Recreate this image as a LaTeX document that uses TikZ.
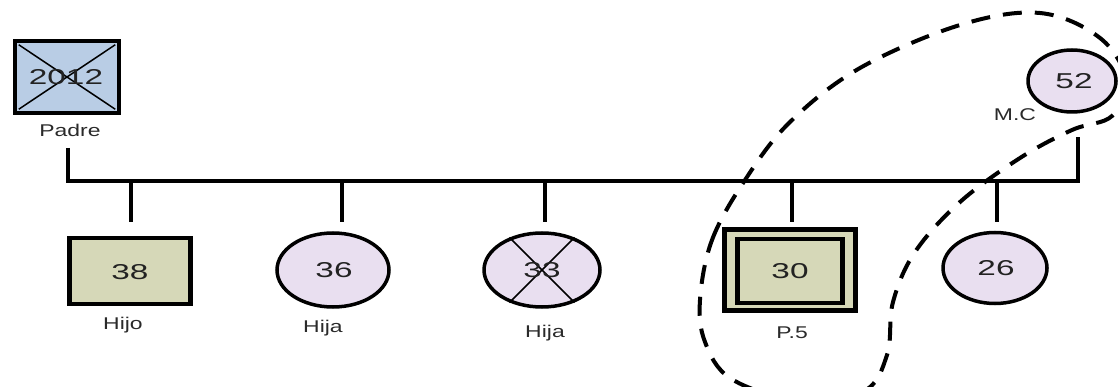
\documentclass[tikz,border=0pt]{standalone}
\usepackage{fontspec}
\usepackage{graphicx}
\setmainfont{Liberation Sans}
\usetikzlibrary{shapes.geometric}
\definecolor{bluefill}{HTML}{B9CDE5}
\definecolor{olivefill}{HTML}{D6D8B8}
\definecolor{pinkfill}{HTML}{E9DFF0}
\definecolor{txt}{HTML}{222222}
\definecolor{lbl}{HTML}{2A2A2A}
\newcommand\numsx[1]{\scalebox{1.55}[1]{#1}}
\newcommand\labsx[1]{\scalebox{1.35}[1]{#1}}
\tikzset{
  num/.style={font=\fontsize{21.5}{24}\selectfont, text=txt, inner sep=0pt},
  lab/.style={font=\fontsize{17}{20}\selectfont, text=lbl, inner sep=0pt},
  male/.style={draw=black, line width=4.5pt, fill=olivefill, rectangle, inner sep=0pt},
  female/.style={draw=black, line width=3.5pt, fill=pinkfill, ellipse, inner sep=0pt},
  link/.style={line width=3.8pt, draw=black},
  crossline/.style={line width=1.5pt, draw=black},
  loop/.style={line width=4pt, dash pattern=on 19pt off 13pt, draw=black}
}
\begin{document}
\begin{tikzpicture}[x=1pt,y=-1pt]
\useasboundingbox (0,0) rectangle (1118,387);
\begin{scope}
\clip (0,0) rectangle (1118,387);
% Padre
\node[male, fill=bluefill, minimum width=104pt, minimum height=72pt] (padre) at (67,77) {};
\draw[crossline] ([shift={(6pt,-6pt)}]padre.north west) -- ([shift={(-6pt,6pt)}]padre.south east);
\draw[crossline] ([shift={(-6pt,-6pt)}]padre.north east) -- ([shift={(6pt,6pt)}]padre.south west);
\node[num] (padreN) at (66,77) {\numsx{2012}};
\node[lab] (padreL) at (70,130) {\labsx{Padre}};

% M.C
\node[female, minimum width=88pt, minimum height=62pt] (mc) at (1072,81) {};
\node[num] at (1074,81) {\numsx{52}};
\node[lab] (mcL) at (1015,115) {\labsx{M.C}};

% line
\coordinate (hl) at (68,181);
\coordinate (hr) at (1078,181);
\coordinate (padtop) at (68,148);
\coordinate (mctop) at (1078,137);
\draw[link] (padtop) -- (hl) -- (hr) -- (mctop);

% children
\node[male, minimum width=121pt, minimum height=66pt] (c38) at (130,271) {};
\node[num] at (130,272) {\numsx{38}};
\node[lab] (l38) at (123,325) {\labsx{Hijo}};

\node[female, minimum width=112pt, minimum height=74pt] (c36) at (333,270) {};
\node[num] at (334,270) {\numsx{36}};
\node[lab] (l36) at (323,328) {\labsx{Hija}};

\node[female, minimum width=116pt, minimum height=74pt] (c33) at (542,270) {};
\draw[crossline] (c33.135) -- (c33.-45);
\draw[crossline] (c33.45) -- (c33.-135);
\node[num] at (542,270) {\numsx{33}};
\node[lab] (l33) at (545,333) {\labsx{Hija}};

\node[male, minimum width=131pt, minimum height=81pt] (c30) at (790,270) {};
\node[draw=black, line width=4.5pt, rectangle, minimum width=105pt, minimum height=64pt, inner sep=0pt] (c30i) at (790,271) {};
\node[num] at (790,271) {\numsx{30}};
\node[lab] (l30) at (792,333) {\labsx{P.5}};

\node[female, minimum width=104pt, minimum height=71pt] (c26) at (995,268) {};
\node[num] at (996,268) {\numsx{26}};

\coordinate (d38) at (131,181);
\coordinate (d36) at (342,181);
\coordinate (d33) at (545,181);
\coordinate (d30) at (792,181);
\coordinate (d26) at (997,181);
\draw[link] (d38) -- (d38 |- 0,222);
\draw[link] (d36) -- (d36 |- 0,222);
\draw[link] (d33) -- (d33 |- 0,222);
\draw[link] (d30) -- (d30 |- 0,222);
\draw[link] (d26) -- (d26 |- 0,222);

% dashed loop
\draw[loop] plot[smooth cycle, tension=0.6] coordinates {
 (700,300) (712,240) (745,180) (790,122) (860,68) (960,25) (1040,13)
 (1100,38) (1126,80) (1112,116) (1072,130) (1020,158) (960,202)
 (915,252) (893,302) (887,355) (862,392) (790,398) (730,378) (705,342)};
\end{scope}
\end{tikzpicture}
\end{document}
